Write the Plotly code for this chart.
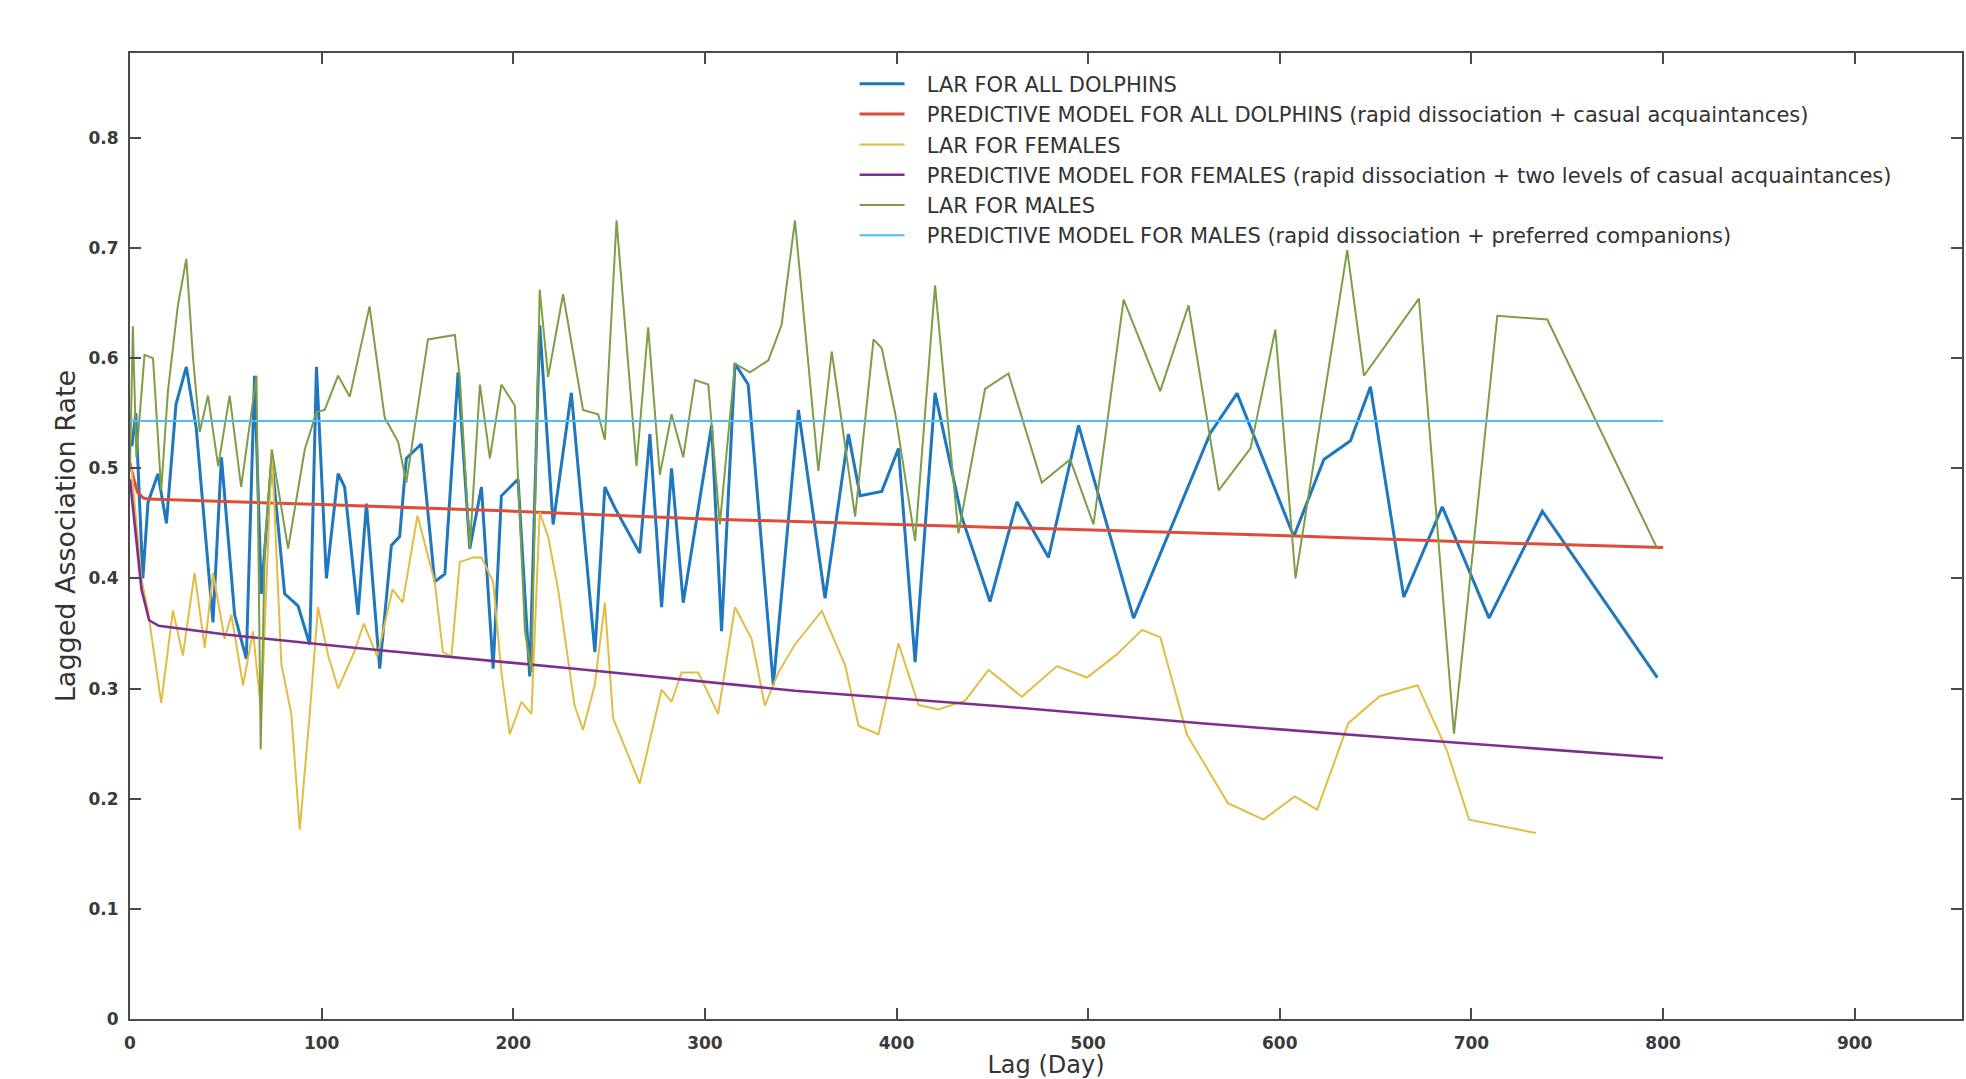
import plotly.graph_objects as go

# ---------------- data ----------------
lag_all = [1, 3, 6.7, 9.4, 14.6, 19, 24, 29.4, 34.6, 43.3,
           47.7, 54.6, 60.7, 65, 68.5, 74, 80.7, 87.7, 93.8, 97.3,
           102.5, 108.6, 112, 119, 123.4, 130.3, 136.4, 140.7, 144.2, 152,
           159, 164.3, 171.2, 177.3, 183.4, 189.5, 193.8, 202.5, 208.6, 213.8,
           220.8, 230.3, 242.6, 247.8, 253, 266, 271.3, 277.4, 282.6, 288.7,
           303.5, 308.7, 315.7, 322.6, 335.7, 348.8, 362.7, 374.9, 381, 392.3,
           401, 409.7, 420.1, 434, 448.8, 462.8, 479.3, 495, 523.7, 563.8,
           577.7, 607.3, 623, 636.9, 647.3, 664.7, 684.8, 709.2, 737, 797]
lar_all = [0.52, 0.55, 0.40, 0.469, 0.495, 0.45, 0.558, 0.592, 0.536, 0.36,
           0.51, 0.367, 0.327, 0.584, 0.386, 0.508, 0.386, 0.375, 0.34, 0.592,
           0.40, 0.495, 0.483, 0.367, 0.468, 0.318, 0.43, 0.438, 0.509, 0.522,
           0.397, 0.404, 0.587, 0.427, 0.483, 0.318, 0.475, 0.49, 0.311, 0.63,
           0.449, 0.5685, 0.333, 0.483, 0.464, 0.423, 0.531, 0.374, 0.50, 0.378,
           0.539, 0.352, 0.595, 0.576, 0.303, 0.553, 0.382, 0.531, 0.475, 0.479,
           0.518, 0.324, 0.5685, 0.456, 0.379, 0.4695, 0.419, 0.539, 0.364, 0.532,
           0.568, 0.438, 0.508, 0.525, 0.574, 0.383, 0.465, 0.364, 0.461, 0.310]

lag_model_all = [0, 2, 4, 7, 10, 50, 100, 200, 300, 400, 500, 600, 700, 800]
model_all = [0.505, 0.49, 0.478, 0.473, 0.472, 0.470, 0.467, 0.461, 0.454,
             0.449, 0.444, 0.439, 0.433, 0.428]

lag_fem = [0.7, 5.9, 9.4, 16.3, 22.4, 27.6, 33.7, 39, 43.3, 49.4,
           52.9, 59, 64.2, 68.5, 74, 79, 84.2, 88.6, 93.8, 98.1,
           103.4, 108.6, 117, 122, 129, 137, 142.3, 150, 159, 163.3,
           167.7, 172.1, 179, 183.4, 189.5, 193.8, 198.2, 204.3, 209.5, 213.8,
           218.2, 223.4, 232, 236.4, 242.5, 247.8, 252.1, 266, 277.4, 282.6,
           287.8, 296.5, 306.9, 315.7, 324.4, 331.3, 338.3, 347, 361, 373.2,
           380.2, 390.6, 401, 411.5, 421.9, 435.8, 448, 465.4, 483.7, 499.4,
           515, 528.1, 537.7, 551.6, 572.9, 591.5, 607.8, 619.5, 635.8, 652.1,
           671.9, 687.1, 698.8, 733.7]
lar_fem = [0.502, 0.40, 0.37, 0.287, 0.371, 0.33, 0.405, 0.337, 0.405, 0.345,
           0.367, 0.303, 0.352, 0.277, 0.517, 0.322, 0.277, 0.172, 0.277, 0.374,
           0.33, 0.30, 0.333, 0.359, 0.329, 0.39, 0.378, 0.457, 0.397, 0.333,
           0.329, 0.415, 0.419, 0.419, 0.397, 0.315, 0.2585, 0.288, 0.277, 0.46,
           0.438, 0.39, 0.2845, 0.2625, 0.303, 0.378, 0.273, 0.2137, 0.299, 0.288,
           0.3145, 0.3145, 0.277, 0.374, 0.345, 0.2845, 0.3145, 0.340, 0.3705, 0.321,
           0.266, 0.2585, 0.341, 0.285, 0.281, 0.289, 0.317, 0.2926, 0.3204, 0.31,
           0.331, 0.3533, 0.3464, 0.258, 0.196, 0.181, 0.202, 0.19, 0.2686, 0.293,
           0.303, 0.2444, 0.181, 0.1688]

lag_model_fem = [0, 3, 6, 10, 15, 50, 117, 232, 347, 454, 562, 668, 800]
model_fem = [0.49, 0.44, 0.39, 0.362, 0.357, 0.349, 0.337, 0.318, 0.298,
             0.284, 0.268, 0.254, 0.237]

lag_male = [0, 1.5, 3.3, 7.6, 12, 16.3, 19.8, 25, 29.4, 32.9,
            36.4, 40.7, 46, 52, 58, 66, 68.2, 70.3, 74, 82.5,
            91.2, 97.3, 101.6, 108.6, 114.7, 125, 132.9, 139.9, 144.2, 155.5,
            169.5, 172.1, 177.3, 182.6, 187.8, 193.8, 200.8, 206.1, 209.5, 213.8,
            218.2, 226, 236.4, 244.3, 247.8, 253.9, 264.3, 270.4, 276.5, 282.6,
            288.7, 294.8, 301.8, 307.8, 315.7, 323.5, 333.1, 340, 347, 359.2,
            366.2, 378.4, 388, 392.3, 399.3, 409.7, 420.1, 432.3, 446.2, 458.4,
            475.8, 490.6, 502.8, 518.5, 537.6, 552.4, 568.1, 584.7, 597.7, 608.2,
            635.2, 643.9, 672.6, 690.9, 713.5, 739.6, 797]
lar_male = [0.50, 0.629, 0.51, 0.603, 0.60, 0.48, 0.57, 0.648, 0.69, 0.60,
            0.533, 0.566, 0.502, 0.566, 0.483, 0.584, 0.245, 0.427, 0.517, 0.427,
            0.517, 0.551, 0.553, 0.584, 0.565, 0.647, 0.546, 0.524, 0.487, 0.617,
            0.621, 0.583, 0.427, 0.576, 0.509, 0.576, 0.557, 0.352, 0.315, 0.662,
            0.583, 0.658, 0.553, 0.549, 0.526, 0.725, 0.502, 0.628, 0.494, 0.549,
            0.51, 0.58, 0.576, 0.449, 0.595, 0.587, 0.598, 0.630, 0.725, 0.4975,
            0.606, 0.456, 0.617, 0.609, 0.55, 0.434, 0.666, 0.441, 0.572, 0.586,
            0.487, 0.508, 0.449, 0.653, 0.570, 0.648, 0.48, 0.518, 0.626, 0.40,
            0.698, 0.584, 0.654, 0.259, 0.6385, 0.635, 0.427]

lag_model_male = [0, 800]
model_male = [0.543, 0.543]

names = [
    "LAR FOR ALL DOLPHINS",
    "PREDICTIVE MODEL FOR ALL DOLPHINS (rapid dissociation + casual acquaintances)",
    "LAR FOR FEMALES",
    "PREDICTIVE MODEL FOR FEMALES (rapid dissociation + two levels of casual acquaintances)",
    "LAR FOR MALES",
    "PREDICTIVE MODEL FOR MALES (rapid dissociation + preferred companions)",
]

x_ticks = [0, 100, 200, 300, 400, 500, 600, 700, 800, 900]
y_ticks = [0, 0.1, 0.2, 0.3, 0.4, 0.5, 0.6, 0.7, 0.8]

# ---------------- figure ----------------
series = [
    (lag_all, lar_all, "#1f77bd", 3),
    (lag_model_all, model_all, "#E04B3A", 3),
    (lag_fem, lar_fem, "#E3BC45", 2),
    (lag_model_fem, model_fem, "#7E2F8E", 2.6),
    (lag_male, lar_male, "#7E9E46", 2),
    (lag_model_male, model_male, "#4DBEEE", 2),
]

fig = go.Figure()
for (xs, ys, col, w), nm in zip(series, names):
    fig.add_trace(go.Scatter(x=xs, y=ys, mode="lines", name="\u2002\u00a0" + nm,
                             line=dict(color=col, width=w)))

W, H = 1966, 1079
ml, mr, mt, mb = 130, 4, 53, 60

axis_common = dict(showline=True, mirror="ticks", linecolor="#4a4a4a", linewidth=2,
                   ticks="inside", ticklen=11, tickwidth=2, tickcolor="#4a4a4a",
                   showgrid=False, zeroline=False, automargin=False,
                   tickfont=dict(family="DejaVu Sans", size=17, color="#3a3a3a", weight="bold"))

fig.update_layout(
    width=W, height=H,
    margin=dict(l=ml, r=mr, t=mt, b=mb),
    paper_bgcolor="white", plot_bgcolor="white",
    template="none",
    showlegend=True,
    legend=dict(x=0.3955, y=0.989, xanchor="left", yanchor="top",
                bgcolor="rgba(255,255,255,0)", borderwidth=0,
                font=dict(family="DejaVu Sans", size=21, color="#333333"),
                tracegroupgap=0, itemwidth=45),
    xaxis=dict(range=[0, 956], tickvals=x_ticks, ticktext=[str(v) for v in x_ticks],
               ticklabelstandoff=8,
               title=dict(text="Lag (Day)", standoff=24,
                          font=dict(family="DejaVu Sans", size=24, color="#333333")),
               **axis_common),
    yaxis=dict(range=[0, 0.877], tickvals=y_ticks,
               ticktext=["0", "0.1", "0.2", "0.3", "0.4", "0.5", "0.6", "0.7", "0.8"],
               ticklabelstandoff=6,
               title=dict(text="Lagged Association Rate", standoff=5,
                          font=dict(family="DejaVu Sans", size=27, color="#333333")),
               **axis_common),
)

fig.write_html("out.html")
